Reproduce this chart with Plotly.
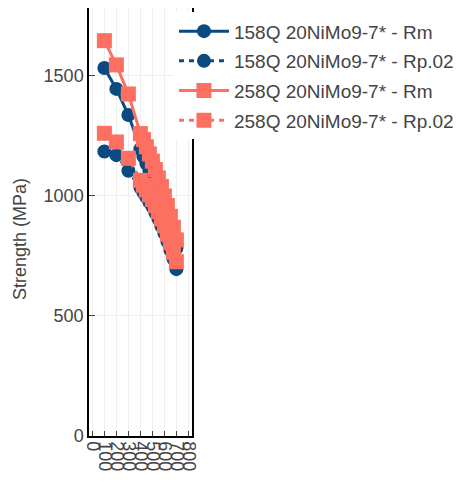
import plotly.graph_objects as go

# Test temperatures (°C)
temps = [100, 200, 300, 400, 425, 450, 475, 500, 525, 550, 575, 600, 625, 650, 675, 700]

# 158Q 20NiMo9-7* strengths (MPa)
rm_158q = [1533, 1446, 1337, 1195, 1165, 1135, 1105, 1075, 1045, 1010, 975, 940, 900, 860, 820, 782]
rp02_158q = [1185, 1170, 1105, 1035, 1015, 995, 975, 955, 930, 905, 875, 845, 810, 775, 738, 695]

# 258Q 20NiMo9-7* strengths (MPa)
rm_258q = [1647, 1546, 1425, 1260, 1235, 1205, 1175, 1145, 1110, 1075, 1040, 1000, 960, 915, 870, 817]
rp02_258q = [1261, 1225, 1157, 1065, 1045, 1025, 1005, 985, 960, 935, 905, 875, 840, 805, 765, 726]

x_ticks = [0, 100, 200, 300, 400, 500, 600, 700, 800]
y_ticks = [0, 500, 1000, 1500]

BLUE = "#0b4a80"
SALMON = "#fd6f60"

fig = go.Figure()


def add_series(name, values, color, symbol, size, dash):
    fig.add_trace(go.Scatter(
        x=temps, y=values, name=name, legendgroup=name, mode="lines+markers",
        line=dict(color=color, width=3, dash=dash),
        marker=dict(color=color, symbol=symbol, size=size),
    ))


add_series("158Q 20NiMo9-7* - Rm", rm_158q, BLUE, "circle", 14, "solid")
add_series("158Q 20NiMo9-7* - Rp.02", rp02_158q, BLUE, "circle", 14, "5px,5px")
add_series("258Q 20NiMo9-7* - Rm", rm_258q, SALMON, "square", 15, "solid")
add_series("258Q 20NiMo9-7* - Rp.02", rp02_258q, SALMON, "square", 15, "5px,5px")

# y-axis title, placed as rotated text left of the tick labels
fig.add_annotation(
    text="Strength (MPa)", textangle=-90, showarrow=False,
    xref="paper", yref="paper", x=-0.67, y=0.46,
    xanchor="center", yanchor="middle",
    font=dict(size=18, color="#444"),
)

fig.update_layout(
    width=460, height=486,
    margin=dict(l=89, r=268, t=8, b=50, autoexpand=False),
    paper_bgcolor="white", plot_bgcolor="white",
    font=dict(family="Arial, Liberation Sans, sans-serif", size=18, color="#444"),
    showlegend=True,
    legend=dict(x=0.825, y=0.99, xanchor="left", yanchor="top",
                bgcolor="white", itemwidth=50, tracegroupgap=2,
                font=dict(size=19)),
    xaxis=dict(range=[-28, 830], tickmode="array", tickvals=x_ticks,
               ticktext=[str(v) for v in x_ticks], tickangle=90,
               ticks="inside", ticklen=5, tickcolor="#444",
               showline=True, linecolor="black", linewidth=1.5,
               showgrid=True, gridcolor="#eeeeee", zeroline=False),
    yaxis=dict(range=[0, 1783], tickmode="array", tickvals=y_ticks,
               ticks="inside", ticklen=6, tickcolor="#444",
               showline=True, linecolor="black", linewidth=1.5, mirror=True,
               showgrid=True, gridcolor="#eeeeee", zeroline=False),
)

fig.write_html("out.html")
